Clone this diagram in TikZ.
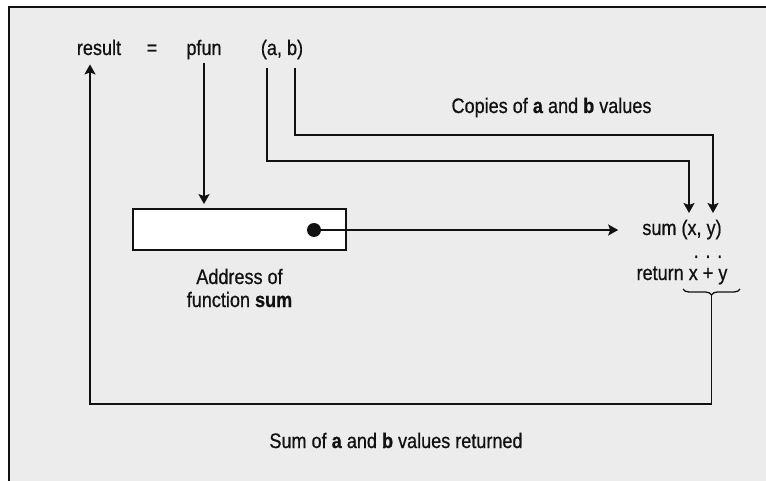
\documentclass[tikz,border=0pt]{standalone}
\usepackage{fontspec}
\setmainfont{Liberation Sans}[FakeStretch=0.86, FakeBold=0.6]
\usetikzlibrary{arrows.meta,decorations.pathreplacing,positioning}
\definecolor{panel}{HTML}{ECECEC}
\definecolor{ink}{HTML}{111111}
\tikzset{
  code/.style={anchor=base, text=ink, inner sep=3pt},
  addrbox/.style={draw=ink, fill=white, minimum width=213pt, minimum height=41pt, inner sep=0pt},
  wire/.style={draw=ink, line width=1.8pt},
}
\begin{document}
\begin{tikzpicture}[x=1pt, y=-1pt, >={Stealth[length=10pt,width=11pt,inset=2pt]}, every node/.style={font=\fontsize{21}{23}\selectfont}]
  % 1. background and frame
  \useasboundingbox (0,0) rectangle (766,481);
  \fill[white] (0,0) rectangle (766,481);
  \fill[panel] (9,7) rectangle (766,481);
  \draw[ink, line width=2pt] (9,481) -- (9,7) -- (766,7);

  % 2. the call
  \node[code] (result) at (99,55) {result};
  \node[code] (eq) at (152,55) {=};
  \node[code] (pfun) at (204,55) {pfun};
  \node[code] (args) at (282,55) {(a, b)};

  % 3. pointer box
  \node[addrbox, line width=1.8pt] (addr) at (239.5,229.5) {};
  \coordinate (dot) at (314,230);
  \fill[ink] (dot) circle (7pt);
  \node[align=center, text=ink] (addrlbl) at (239.5,288) {Address of\\function \textbf{sum}};

  % 4. the function
  \node[code] (sum) at (682,235) {sum (x, y)};
  \node[code] (dots) at (708,258) {. . .};
  \node[code] (ret) at (682,280) {return x + y};
  \coordinate (brace r) at (740,289);
  \coordinate (brace l) at (683,289);
  \coordinate (brace tip) at (711.5,295);
  \draw[ink, line width=1.3pt, decorate, decoration={brace, amplitude=6pt}] (brace r) -- (brace l);

  % 5. labels
  \node[code] (copies) at (551.5,113) {Copies of \textbf{a} and \textbf{b} values};
  \node[code] (sumlbl) at (396,448) {Sum of \textbf{a} and \textbf{b} values returned};

  % 6. connectors
  \coordinate (a out) at (267,68);
  \coordinate (b out) at (295,68);
  \coordinate (x in) at (689,213);
  \coordinate (y in) at (713,213);
  \coordinate (back) at (90,404);
  \draw[wire, ->] (a out) -- ++(0,93) -| (x in);
  \draw[wire, ->] (b out) -- ++(0,67) -| (y in);
  \draw[wire, ->] (pfun.south) -- ([yshift=4pt]pfun.south |- addr.north);
  \draw[wire, ->] (dot) -- ([xshift=-21pt]sum.west |- dot);
  \draw[wire, ->, shorten >=6pt] (brace tip) |- (back) -- (back |- result.south);
\end{tikzpicture}
\end{document}
